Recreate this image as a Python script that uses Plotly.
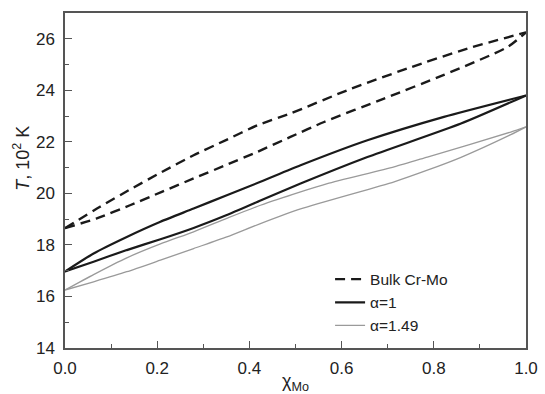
import plotly.graph_objects as go

# Bulk Cr-Mo (liquidus / solidus), T in 10^2 K
bulk_liq_x = [0.0, 0.076, 0.145, 0.210, 0.279, 0.348, 0.417, 0.489, 0.612, 0.743, 0.873, 1.0]
bulk_liq_T = [18.65, 19.48, 20.19, 20.83, 21.48, 22.06, 22.64, 23.10, 24.00, 24.85, 25.62, 26.25]
bulk_sol_x = [0.0, 0.069, 0.141, 0.210, 0.279, 0.348, 0.417, 0.489, 0.562, 0.692, 0.822, 0.96, 1.0]
bulk_sol_T = [18.65, 19.03, 19.54, 20.06, 20.58, 21.09, 21.61, 22.19, 22.77, 23.68, 24.60, 25.68, 26.25]

# alpha = 1
a1_liq_x = [0.0, 0.062, 0.134, 0.207, 0.279, 0.351, 0.424, 0.511, 0.656, 0.822, 1.0]
a1_liq_T = [16.97, 17.67, 18.31, 18.90, 19.41, 19.93, 20.45, 21.09, 22.06, 22.97, 23.80]
a1_sol_x = [0.0, 0.062, 0.134, 0.207, 0.279, 0.351, 0.424, 0.511, 0.656, 0.859, 1.0]
a1_sol_T = [16.97, 17.35, 17.80, 18.22, 18.66, 19.16, 19.72, 20.38, 21.41, 22.71, 23.80]

# alpha = 1.49
a149_liq_x = [0.0, 0.062, 0.134, 0.207, 0.279, 0.351, 0.424, 0.511, 0.569, 0.714, 0.786, 0.967, 1.0]
a149_liq_T = [16.25, 16.85, 17.50, 18.04, 18.51, 19.03, 19.54, 20.06, 20.38, 21.03, 21.41, 22.38, 22.58]
a149_sol_x = [0.0, 0.062, 0.134, 0.207, 0.279, 0.351, 0.424, 0.511, 0.714, 0.786, 0.859, 0.967, 1.0]
a149_sol_T = [16.25, 16.57, 16.96, 17.41, 17.86, 18.31, 18.83, 19.40, 20.45, 20.90, 21.40, 22.28, 22.58]

series_names = ["Bulk Cr-Mo", "α=1", "α=1.49"]

x_ticks = [0.0, 0.2, 0.4, 0.6, 0.8, 1.0]
x_ticklabels = ["0.0", "0.2", "0.4", "0.6", "0.8", "1.0"]
y_ticks = [14, 16, 18, 20, 22, 24, 26]
y_ticklabels = ["14", "16", "18", "20", "22", "24", "26"]

FONT = "Arial, Liberation Sans, sans-serif"

styles = {
    "Bulk Cr-Mo": dict(color="#1a1a1a", width=2.4, dash="10px,6px", shape="spline", smoothing=0.6),
    "α=1": dict(color="#1a1a1a", width=2.2, shape="spline", smoothing=0.6),
    "α=1.49": dict(color="#9a9a9a", width=1.3, shape="spline", smoothing=0.6),
}

fig = go.Figure()
pairs = [
    ("Bulk Cr-Mo", bulk_liq_x, bulk_liq_T, bulk_sol_x, bulk_sol_T),
    ("α=1", a1_liq_x, a1_liq_T, a1_sol_x, a1_sol_T),
    ("α=1.49", a149_liq_x, a149_liq_T, a149_sol_x, a149_sol_T),
]
for name, lx, lt, sx, st in pairs:
    fig.add_trace(go.Scatter(x=lx, y=lt, mode="lines", name=name, line=styles[name],
                             legendgroup=name, showlegend=True))
    fig.add_trace(go.Scatter(x=sx, y=st, mode="lines", name=name, line=styles[name],
                             legendgroup=name, showlegend=False))

axis_common = dict(
    showgrid=False, zeroline=False, showline=True, linecolor="#555", linewidth=1.5,
    mirror=True, ticks="inside", ticklen=7, tickwidth=1.2, tickcolor="#555",
    tickfont=dict(family=FONT, size=17, color="#222"), automargin=False,
)

fig.update_xaxes(
    range=[0, 1], tickvals=x_ticks, ticktext=x_ticklabels,
    minor=dict(dtick=0.1, ticks="inside", ticklen=4, tickcolor="#555", showgrid=False),
    title=dict(text="χ<sub>Mo</sub>", font=dict(family=FONT, size=18, color="#222"), standoff=10),
    ticklabelstandoff=4,
    **axis_common,
)
fig.update_yaxes(
    range=[14, 27], tickvals=y_ticks, ticktext=y_ticklabels,
    minor=dict(dtick=1, ticks="inside", ticklen=4, tickcolor="#555", showgrid=False),
    ticklabelstandoff=5,
    **axis_common,
)

fig.add_annotation(
    text="<i>T</i>, 10<sup>2</sup> K", textangle=-90, showarrow=False,
    xref="paper", yref="paper", x=-0.093, y=0.565, xanchor="center", yanchor="middle",
    font=dict(family=FONT, size=18, color="#222"),
)

fig.update_layout(
    width=545, height=394,
    margin=dict(l=65, r=19, t=13, b=46),
    paper_bgcolor="white", plot_bgcolor="white",
    showlegend=True,
    legend=dict(x=0.575, y=0.255, xanchor="left", yanchor="top",
                bgcolor="rgba(255,255,255,0)", borderwidth=0,
                font=dict(family=FONT, size=15.5, color="#222"),
                tracegroupgap=0, itemwidth=30),
)

fig.write_html("out.html", config={"displayModeBar": False},
               post_script="document.body.style.margin='0';")
